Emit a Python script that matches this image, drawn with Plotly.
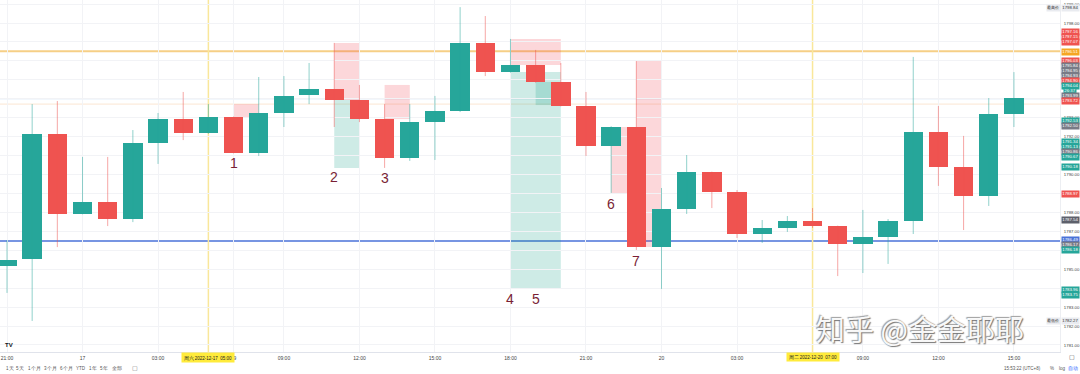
import plotly.graph_objects as go

# ---------------- data ----------------
opens  = [1785.17, 1785.54, 1792.14, 1787.92, 1788.55, 1787.65, 1791.67, 1792.93, 1792.19, 1793.04,
          1791.14, 1793.25, 1794.20, 1794.52, 1793.94, 1792.93, 1790.87, 1792.77, 1793.36, 1796.95,
          1795.41, 1795.78, 1794.89, 1793.62, 1791.51, 1792.51, 1786.17, 1788.18, 1790.13, 1789.08,
          1786.86, 1787.18, 1787.55, 1787.28, 1786.33, 1786.70, 1787.55, 1792.25, 1790.40, 1788.87,
          1793.20]
highs  = [1786.54, 1793.72, 1793.88, 1790.93, 1790.93, 1792.35, 1793.25, 1794.36, 1793.72, 1793.06,
          1795.15, 1795.20, 1795.89, 1796.95, 1794.73, 1793.72, 1793.72, 1794.15, 1798.84, 1798.37,
          1797.16, 1796.58, 1795.89, 1794.36, 1792.55, 1795.99, 1789.29, 1791.03, 1790.15, 1789.18,
          1787.60, 1787.81, 1788.23, 1787.30, 1788.13, 1787.65, 1796.21, 1793.62, 1792.04, 1794.04,
          1795.41]
lows   = [1783.75, 1782.27, 1786.17, 1787.90, 1787.28, 1787.49, 1790.56, 1791.82, 1792.15, 1791.12,
          1790.98, 1792.51, 1793.72, 1792.51, 1792.77, 1790.35, 1790.72, 1790.77, 1793.30, 1795.20,
          1795.38, 1794.85, 1793.60, 1790.98, 1789.03, 1786.02, 1783.96, 1787.92, 1788.23, 1786.65,
          1786.39, 1786.97, 1787.18, 1784.64, 1784.80, 1785.28, 1786.86, 1789.40, 1787.07, 1788.34,
          1792.51]
closes = [1785.49, 1792.14, 1787.92, 1788.55, 1787.65, 1791.67, 1792.93, 1792.19, 1793.04, 1791.14,
          1793.25, 1794.15, 1794.52, 1793.94, 1792.93, 1790.87, 1792.77, 1793.36, 1796.95, 1795.41,
          1795.78, 1794.89, 1793.62, 1791.51, 1792.51, 1786.17, 1788.18, 1790.13, 1789.08, 1786.86,
          1787.18, 1787.55, 1787.28, 1786.33, 1786.70, 1787.55, 1792.25, 1790.40, 1788.87, 1793.20,
          1794.04]

time_tick_idx  = [0, 3, 6, 9, 11, 14, 17, 20, 23, 26, 29, 34, 37, 40]
time_tick_text = ["21:00", "17", "03:00", "19", "09:00", "12:00", "15:00", "18:00", "21:00", "20",
                  "03:00", "09:00", "12:00", "15:00"]
time_marks_idx  = [8, 32]
time_marks_text = ["周六 2022-12-17  05:00", "周二 2022-12-20  07:00"]

price_ticks = list(range(1781, 1800))
price_ticks_shown = [1781, 1782, 1783, 1785, 1787, 1788, 1790, 1792, 1793, 1798, 1799]

h_levels = [1796.51, 1793.99, 1793.72, 1786.49]
h_colors = ["#f6cf86", "#e3edf8", "#fbe6d2", "#4a72d8"]
h_widths = [2, 1, 1, 1.3]

# drawn zones: (x0 idx, x1 idx, y0, y1, kind)
zone_x0 = [9, 13, 13, 15, 20, 20, 21, 24, 25]
zone_x1 = [10, 14, 14, 16, 22, 22, 22, 25, 26]
zone_y0 = [1793.04, 1793.94, 1790.35, 1792.93, 1795.78, 1783.96, 1793.67, 1789.03, 1786.17]
zone_y1 = [1793.72, 1796.95, 1793.94, 1794.73, 1797.16, 1795.41, 1794.89, 1792.51, 1795.99]
zone_kind = ["p", "p", "t", "p", "p", "t", "t", "p", "p"]

note_text = ["1", "2", "3", "4", "5", "6", "7"]
note_idx = [9, 13, 15, 20, 21, 24, 25]
note_price = [1790.61, 1789.87, 1789.82, 1783.43, 1783.43, 1788.44, 1785.43]

# right price-scale badges (text, colour)
badge_text = ["1798.84", "1797.16", "1797.15", "1797.07", "1796.51", "1796.03", "1795.84", "1794.95",
              "1794.93", "1794.90", "1794.04", "26:37", "1793.99", "1793.72", "1792.53", "1792.50",
              "1791.34", "1791.13", "1790.86", "1790.67", "1790.18", "1788.97", "1787.54", "1786.49",
              "1786.17", "1786.18", "1783.96", "1783.75", "1782.27"]
badge_bg = ["#e9ebf0", "#ef5350", "#ef5350", "#ef5350", "#f5a623", "#ef5350", "#787b86", "#787b86",
            "#787b86", "#ef5350", "#26a69a", "#26a69a", "#787b86", "#ef5350", "#26a69a", "#787b86",
            "#26a69a", "#26a69a", "#787b86", "#26a69a", "#26a69a", "#ef5350", "#5d606b", "#4a72d8",
            "#787b86", "#26a69a", "#26a69a", "#26a69a", "#e9ebf0"]

toolbar_items = ["1天", "5天", "1个月", "3个月", "6个月", "YTD", "1年", "5年", "全部"]

UP, DOWN = "#26a69a", "#ef5350"

# ---------------- layout geometry ----------------
W, H = 1080, 374
ML, MR, MT, MB = 0, 20, 0, 22
PW, PH = W - ML - MR, H - MT - MB
XR = [-0.278, 41.83]
YR = [1780.63, 1799.216]

# badge vertical slots (pixels from top) -- TradingView stacks them
badge_ypix = [8, 32, 37, 42, 52, 61, 66, 71, 76, 81, 86, 91, 96, 101, 121, 126,
              142, 147, 152, 157, 167, 194, 220, 240, 245, 250, 290, 295, 321]
toolbar_xpix = [10, 20, 34, 50, 66, 81, 93, 104, 117]


def px(xpix):
    return xpix / PW


def py(ypix):
    return (PH - ypix) / PH


n = len(opens)
idx = list(range(n))
fig = go.Figure()

# wicks
for col, cond in ((UP, True), (DOWN, False)):
    xs, ys = [], []
    for i in idx:
        if (closes[i] >= opens[i]) == cond:
            xs += [i, i, None]
            ys += [lows[i], highs[i], None]
    fig.add_trace(go.Scatter(x=xs, y=ys, mode="lines", line=dict(color=col, width=1),
                             opacity=0.5, hoverinfo="skip", showlegend=False))

# bodies
fig.add_trace(go.Bar(
    x=idx,
    base=[min(o, c) for o, c in zip(opens, closes)],
    y=[max(abs(c - o), 0.06) for o, c in zip(opens, closes)],
    width=0.77,
    marker=dict(color=[UP if c >= o else DOWN for o, c in zip(opens, closes)], line=dict(width=0)),
    showlegend=False, hoverinfo="skip"))

shapes = []
for lv, c, w in zip(h_levels, h_colors, h_widths):
    shapes.append(dict(type="line", xref="paper", yref="y", x0=0, x1=1, y0=lv, y1=lv,
                       layer="below", line=dict(color=c, width=w)))
for m in time_marks_idx:
    shapes.append(dict(type="line", xref="x", yref="paper", x0=m, x1=m, y0=0, y1=1,
                       layer="below", line=dict(color="#f9e79a", width=1.5)))
for x0, x1, y0, y1, k in zip(zone_x0, zone_x1, zone_y0, zone_y1, zone_kind):
    shapes.append(dict(type="rect", xref="x", yref="y", x0=x0, x1=x1, y0=y0, y1=y1, layer="below",
                       line=dict(width=0),
                       fillcolor="rgba(242,54,69,0.2)" if k == "p" else "rgba(8,153,129,0.2)"))

ann = []
for t, i, p in zip(note_text, note_idx, note_price):
    ann.append(dict(x=i, y=p, xref="x", yref="y", text=t, showarrow=False, xanchor="center",
                    font=dict(size=14, color="#7a1f35", family="Liberation Sans")))

for m, t in zip(time_marks_idx, time_marks_text):
    ann.append(dict(x=m, y=py(357), xref="x", yref="paper", text=t, showarrow=False,
                    xanchor="center", yanchor="middle", bgcolor="#ffeb3b", borderpad=1.5,
                    font=dict(size=4.5, color="#222")))

for t, bg, yp in zip(badge_text, badge_bg, badge_ypix):
    fc = "#333" if bg == "#e9ebf0" else "white"
    ann.append(dict(x=px(1070), y=py(yp), xref="paper", yref="paper", xanchor="center",
                    yanchor="middle", text=t, showarrow=False, bgcolor=bg, borderpad=0.3,
                    font=dict(size=4.3, color=fc)))
for t, yp in (("最高价", 8), ("最低价", 321)):
    ann.append(dict(x=px(1053), y=py(yp), xref="paper", yref="paper", xanchor="center",
                    yanchor="middle", text=t, showarrow=False, bgcolor="#e9ebf0", borderpad=0.3,
                    font=dict(size=4.3, color="#333")))

for t, x in zip(toolbar_items, toolbar_xpix):
    ann.append(dict(x=px(x), y=py(368), xref="paper", yref="paper", text=t, showarrow=False,
                    xanchor="center", yanchor="middle", font=dict(size=4.5, color="#555")))
extra = [("▢", 135, 368, 6, "#777"), ("15:53:22 (UTC+8)", 1022, 368, 4.5, "#555"),
         ("%", 1052, 368, 4.5, "#555"), ("log", 1062, 368, 4.5, "#555"),
         ("自动", 1073, 368, 4.5, "#2962ff"), ("▢", 1072, 357, 6, "#555"),
         ("<b>TV</b>", 9, 345, 6, "#131722")]
for t, x, y, s, c in extra:
    ann.append(dict(x=px(x), y=py(y), xref="paper", yref="paper", text=t, showarrow=False,
                    xanchor="center", yanchor="middle", font=dict(size=s, color=c)))

ann.append(dict(x=px(920), y=py(328), xref="paper", yref="paper", text="知乎 @金金耶耶",
                showarrow=False, xanchor="center", yanchor="middle",
                font=dict(size=29, color="rgba(255,255,255,0.95)", family="Noto Sans CJK SC",
                          shadow="1px 1px 1px #6f6f6f, -1px -1px 1px #9a9a9a")))

fig.update_layout(
    width=W, height=H, margin=dict(l=ML, r=MR, t=MT, b=MB),
    paper_bgcolor="white", plot_bgcolor="white",
    shapes=shapes, annotations=ann, bargap=0,
    font=dict(family="Liberation Sans", size=5, color="#333"),
    xaxis=dict(range=XR, tickvals=time_tick_idx, ticktext=time_tick_text, showgrid=True,
               gridcolor="#f2f3f6", gridwidth=1, zeroline=False, showline=True, linecolor="#e0e3eb",
               ticks="", tickfont=dict(size=5, color="#444"), ticklabelstandoff=1),
    yaxis=dict(range=YR, side="right", tickvals=price_ticks,
               ticktext=[f"{v:.2f}" if v in price_ticks_shown else "" for v in price_ticks],
               showgrid=True, gridcolor="#f2f3f6", zeroline=False, showline=True,
               linecolor="#eceef2", ticks="", tickfont=dict(size=4.3, color="#444"),
               ticklabelstandoff=2),
)

fig.write_html("out.html", config={"displayModeBar": False},
               post_script="document.body.style.margin='0';document.body.style.overflow='hidden';")
